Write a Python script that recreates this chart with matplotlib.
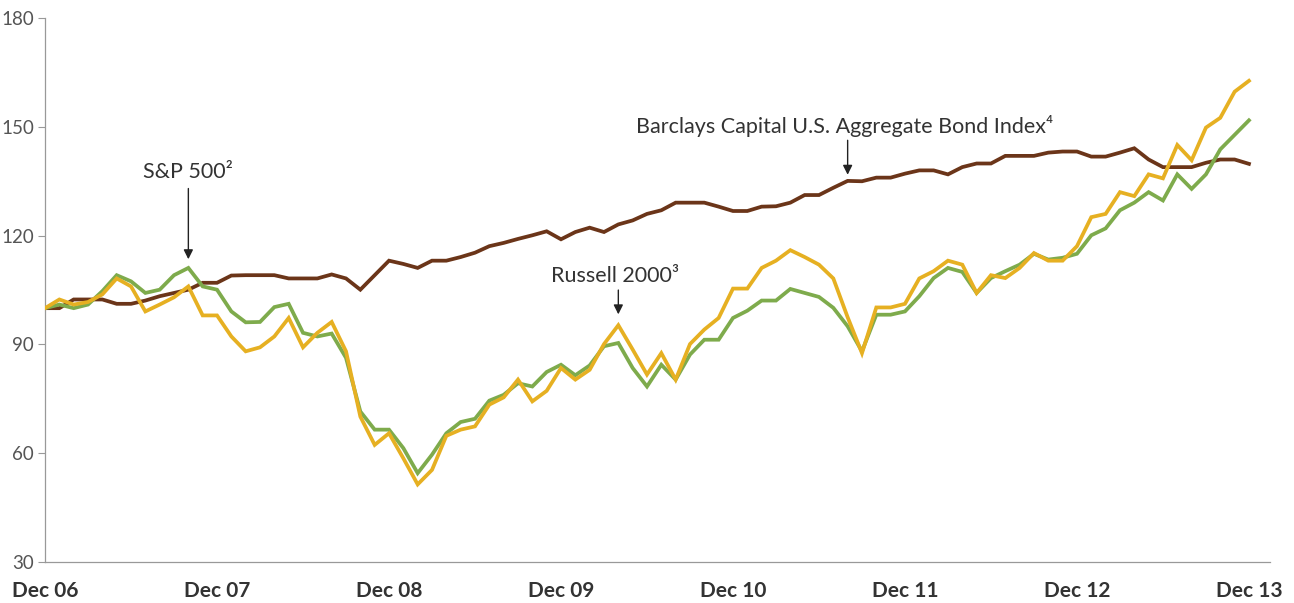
import matplotlib
matplotlib.use("Agg")
import matplotlib.pyplot as plt
import numpy as np

# Monthly index values, Dec 06 = 100 (Dec 06 .. Dec 13)
sp500 = [100, 101, 100, 101, 104.7, 109.1, 107.4, 104.2, 105.1, 109.1,
         111.1, 106, 105.1, 99.1, 96.1, 96.2, 100.3, 101.2, 93.2, 92.2,
         93, 86.3, 71.5, 66.5, 66.5, 61.4, 54.5, 59.6, 65.5, 68.6,
         69.5, 74.5, 76.1, 79.3, 78.4, 82.4, 84.4, 81.5, 84.2, 89.5,
         90.4, 83.5, 78.4, 84.4, 80.3, 87.2, 91.3, 91.3, 97.3, 99.3,
         102.1, 102.1, 105.3, 104.2, 103.1, 100.1, 95, 88.1, 98.2, 98.2,
         99.1, 103.3, 108.3, 111.1, 110, 104.2, 108.3, 110.2, 112, 115,
         113.4, 113.9, 115, 120.1, 122, 127, 129.1, 132, 129.7, 136.9,
         132.9, 136.9, 143.8, 147.8, 151.8]

russell2000 = [100, 102.4, 101, 101.7, 103.8, 108.2, 106, 99.1, 101, 103,
               106, 98, 98, 92.2, 88.1, 89.2, 92.2, 97.3, 89.2, 93.2,
               96.2, 88.1, 70.1, 62.3, 65.5, 58.6, 51.4, 55.4, 64.8, 66.5,
               67.4, 73.4, 75.4, 80.3, 74.3, 77.2, 83.5, 80.3, 83, 90.1,
               95.3, 88.6, 81.7, 87.6, 80.3, 90.1, 94.1, 97.3, 105.4, 105.4,
               111.1, 113.1, 116, 114.1, 112, 108.2, 97.5, 87.6, 100.2, 100.2,
               101.2, 108.2, 110.2, 113.1, 112, 104.2, 109.1, 108.3, 111.1, 115.2,
               113.1, 113.1, 117.1, 125.1, 126, 132, 130.9, 136.9, 135.8, 145,
               140.8, 149.8, 152.5, 159.7, 162.7]

barclays = [100, 100, 102.4, 102.4, 102.4, 101.2, 101.2, 102.1, 103.3, 104.2,
            105.1, 107, 107, 109, 109.1, 109.1, 109.1, 108.2, 108.2, 108.2,
            109.3, 108.2, 105.1, 109.1, 113.1, 112.2, 111.1, 113.1, 113.1, 114.1,
            115.3, 117.1, 118, 119.1, 120.1, 121.2, 119, 121, 122.2, 121,
            123.1, 124.2, 126, 127, 129.1, 129.1, 129.1, 128, 126.8, 126.8,
            128, 128.1, 129.1, 131.2, 131.2, 133.2, 135.1, 135, 136, 136,
            137.1, 138, 138, 136.9, 138.9, 139.9, 139.9, 142, 142, 142,
            142.9, 143.2, 143.2, 141.8, 141.8, 142.9, 144.1, 141, 138.9, 138.9,
            138.9, 140.1, 141, 141, 139.8]

tick_labels = ["Dec 06", "Dec 07", "Dec 08", "Dec 09", "Dec 10", "Dec 11", "Dec 12", "Dec 13"]
y_ticks = [30, 60, 90, 120, 150, 180]

months = np.arange(len(sp500))

plt.rcParams["font.family"] = ["Lato", "DejaVu Sans"]

fig = plt.figure(figsize=(12.94, 6.03), dpi=100)
ax = fig.add_axes([0.0348, 0.068, 0.947, 0.902])

ax.plot(months, barclays, color="#6B3519", lw=2.7, solid_joinstyle="miter", zorder=2)
ax.plot(months, sp500, color="#7EAB4C", lw=2.7, solid_joinstyle="miter", zorder=3)
ax.plot(months, russell2000, color="#E6B022", lw=2.7, solid_joinstyle="miter", zorder=4)

ax.set_xlim(0, 85.5)
ax.set_ylim(30, 180)
ax.set_yticks(y_ticks)
ax.set_yticklabels([str(v) for v in y_ticks], color="#555555", fontsize=13.5)
ax.set_xticks(np.arange(0, 85, 12))
ax.set_xticklabels(tick_labels, fontsize=15, fontweight="bold", color="#333333")
ax.tick_params(axis="x", length=0, pad=14)
ax.tick_params(axis="y", length=5, width=0.8, color="#999999", pad=3)

for s in ["top", "right"]:
    ax.spines[s].set_visible(False)
for s in ["left", "bottom"]:
    ax.spines[s].set_color("#999999")
    ax.spines[s].set_linewidth(0.9)

arrow = dict(arrowstyle="-|>", color="#222222", lw=1.0, mutation_scale=14, shrinkA=0, shrinkB=0)
ax.annotate("", xy=(10, 113.5), xytext=(10, 133), arrowprops=arrow)
ax.text(10, 137.5, "S&P 500²", ha="center", va="center", fontsize=15.5, color="#333333")

ax.annotate("", xy=(40, 98.3), xytext=(40, 105), arrowprops=arrow)
ax.text(39.8, 109, "Russell 2000³", ha="center", va="center", fontsize=15.5, color="#333333")

ax.annotate("", xy=(56, 136.8), xytext=(56, 146.3), arrowprops=arrow)
ax.text(55.8, 150.2, "Barclays Capital U.S. Aggregate Bond Index⁴", ha="center", va="center",
        fontsize=15.5, color="#333333")

fig.savefig("out.png", dpi=100)
